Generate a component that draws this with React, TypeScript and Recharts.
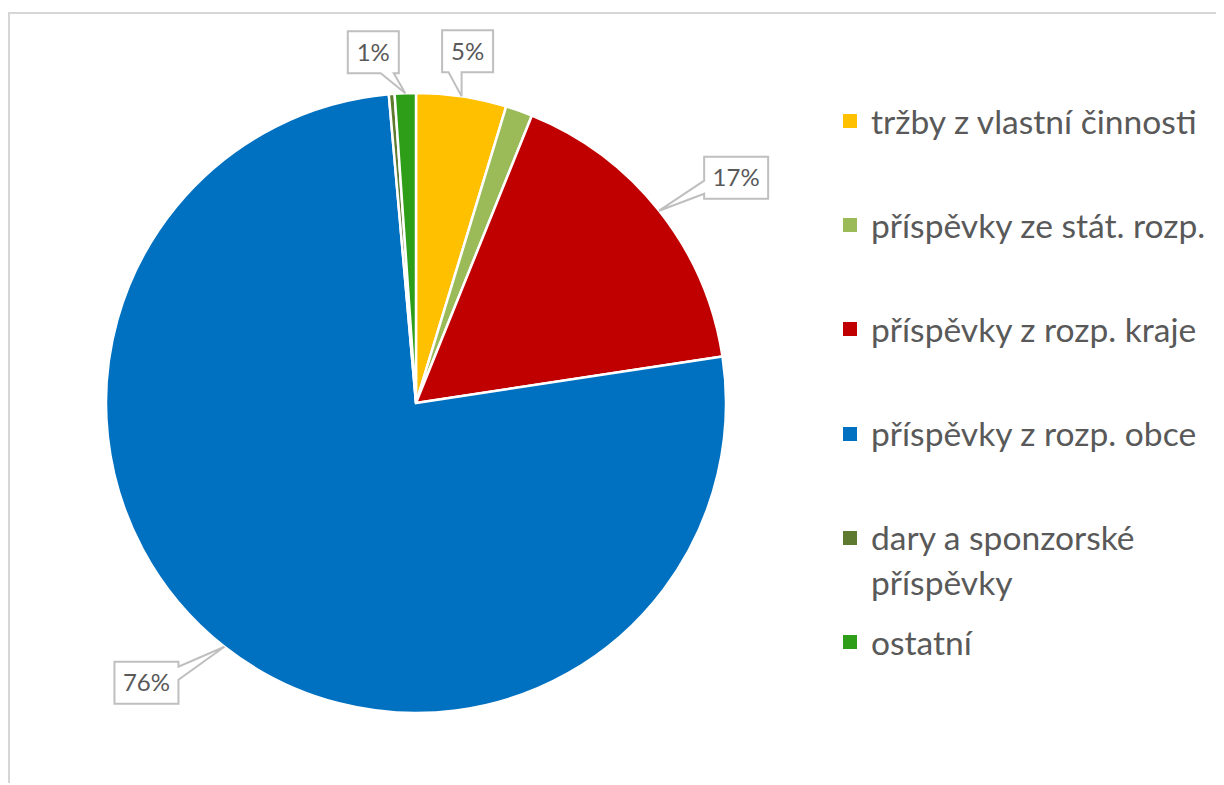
import { Legend, Pie, PieChart } from "recharts";

const categories = [
  "tržby z vlastní činnosti",
  "příspěvky ze stát. rozp.",
  "příspěvky z rozp. kraje",
  "příspěvky z rozp. obce",
  "dary a sponzorské příspěvky",
  "ostatní",
];
const shares = [4.7, 1.4, 16.5, 76.0, 0.3, 1.1];
const labelled = [true, false, true, true, false, true];

const colors = ["#FFC000", "#9BBB59", "#C00000", "#0070C0", "#5E7A2E", "#2E9D17"];
// where each callout box sits relative to its slice edge
const calloutShift = [
  [6, -45],
  [0, 0],
  [77, -33],
  [-78, 36],
  [0, 0],
  [-32, -41],
];

const data = categories.map((name, i) => ({ name, value: shares[i], fill: colors[i] }));

const FONT = "Lato, 'Open Sans', sans-serif";
const TEXT = "#595959";
const RAD = Math.PI / 180;

const clamp = (v: number, lo: number, hi: number) => Math.max(lo, Math.min(hi, v));

const calloutPath = (x: number, y: number, w: number, h: number, tx: number, ty: number) => {
  const outX = tx < x ? x - tx : tx > x + w ? tx - (x + w) : 0;
  const outY = ty < y ? y - ty : ty > y + h ? ty - (y + h) : 0;
  const base = 13;
  const inset = 5;
  if (outX >= outY) {
    const s = clamp(ty - base, y + inset, y + h - inset - base);
    if (tx > x + w) {
      return `M${x},${y} H${x + w} V${s} L${tx},${ty} L${x + w},${s + base} V${y + h} H${x} Z`;
    }
    return `M${x},${y} H${x + w} V${y + h} H${x} V${s + base} L${tx},${ty} L${x},${s} Z`;
  }
  const s = clamp(tx - base, x + inset, x + w - inset - base);
  if (ty > y + h) {
    return `M${x},${y} H${x + w} V${y + h} H${s + base} L${tx},${ty} L${s},${y + h} H${x} Z`;
  }
  return `M${x},${y} H${s} L${tx},${ty} L${s + base},${y} H${x + w} V${y + h} H${x} Z`;
};

const renderCallout = (props: any) => {
  const { cx, cy, midAngle, outerRadius, percent, index } = props;
  if (!labelled[index]) return null;
  const tx = cx + outerRadius * Math.cos(-midAngle * RAD);
  const ty = cy + outerRadius * Math.sin(-midAngle * RAD);
  const text = `${Math.round(percent * 100)}%`;
  const w = 25 + 13 * text.length;
  const h = 42;
  const [dx, dy] = calloutShift[index];
  const bx = tx + dx - w / 2;
  const by = ty + dy - h / 2;
  return (
    <g key={`callout-${index}`}>
      <path d={calloutPath(bx, by, w, h, tx, ty)} fill="#fff" stroke="#bfbfbf" strokeWidth={2} />
      <text
        x={bx + w / 2}
        y={by + h / 2}
        dy="0.36em"
        textAnchor="middle"
        fill={TEXT}
        fontFamily={FONT}
        fontSize={24}
      >
        {text}
      </text>
    </g>
  );
};

// legend in the original category order, colours taken from the same arrays
const renderLegend = () => (
  <div style={{ position: "relative", width: 380, height: 700 }}>
    {categories.map((name, i) => (
      <div
        key={name}
        style={{
          position: "absolute",
          left: 0,
          top: 107 + 104.2 * i - 22.5,
          display: "flex",
          alignItems: "flex-start",
        }}
      >
        <span
          style={{
            width: 14,
            height: 14,
            flex: "none",
            background: colors[i],
            marginTop: 15.5,
            marginRight: 14,
          }}
        />
        <span
          style={{
            width: 348,
            lineHeight: "45px",
            fontSize: 33.6,
            color: TEXT,
            fontFamily: FONT,
          }}
        >
          {name}
        </span>
      </div>
    ))}
  </div>
);

export default function App() {
  return (
    <div style={{ paddingTop: 4 }}>
      <div
        style={{
          width: 1214,
          height: 771,
          borderLeft: "2px solid #d6d6d6",
          borderTop: "2px solid #d6d6d6",
          boxSizing: "border-box",
          background: "#fff",
        }}
      >
        <PieChart width={1212} height={769} margin={{ top: 0, right: 0, bottom: 0, left: 0 }}>
          <Pie
            data={data}
            dataKey="value"
            nameKey="name"
            cx={406}
            cy={389}
            outerRadius={310}
            startAngle={90}
            endAngle={-270}
            stroke="#fff"
            strokeWidth={2.5}
            label={renderCallout}
            labelLine={false}
            isAnimationActive={false}
          />
          <Legend
            content={renderLegend}
            wrapperStyle={{ position: "absolute", left: 833, top: 0, width: 380 }}
          />
        </PieChart>
      </div>
    </div>
  );
}
